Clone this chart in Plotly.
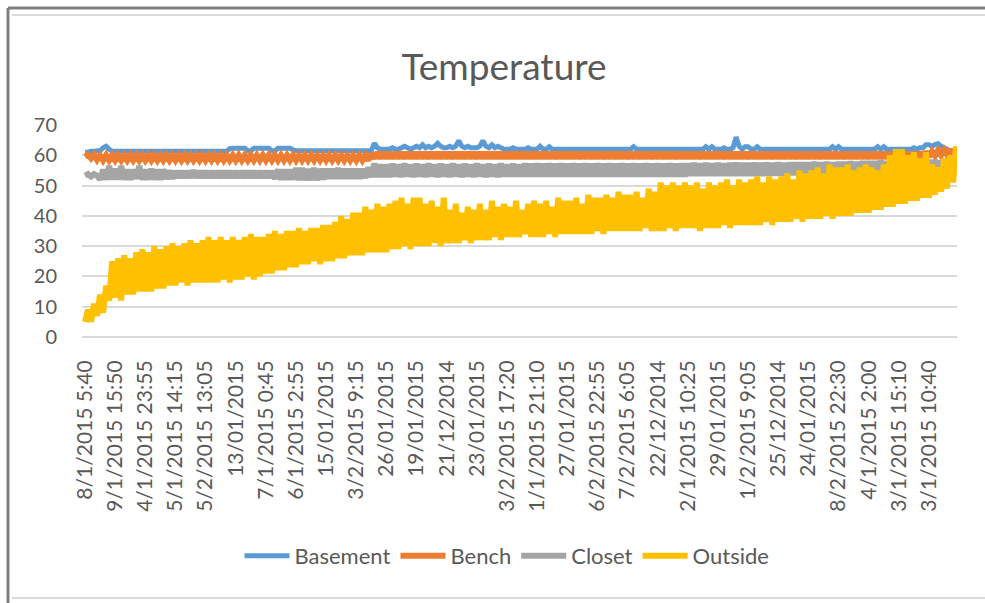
import plotly.graph_objects as go

# ---------------- data ----------------
tick_labels = [
    "8/1/2015 5:40", "9/1/2015 15:50", "4/1/2015 23:55", "5/1/2015 14:15",
    "5/2/2015 13:05", "13/01/2015", "7/1/2015 0:45", "6/1/2015 2:55",
    "15/01/2015", "3/2/2015 9:15", "26/01/2015", "19/01/2015", "21/12/2014",
    "23/01/2015", "3/2/2015 17:20", "1/1/2015 21:10", "27/01/2015",
    "6/2/2015 22:55", "7/2/2015 6:05", "22/12/2014", "2/1/2015 10:25",
    "29/01/2015", "1/2/2015 9:05", "25/12/2014", "24/01/2015",
    "8/2/2015 22:30", "4/1/2015 2:00", "3/1/2015 15:10", "3/1/2015 10:40",
]

basement = [
    61, 61, 61.3, 61.3, 61.5, 61.5, 62.5, 63, 62, 61.3,
    61.3, 61.3, 61.3, 61.3, 61.3, 61.3, 61.3, 61.3, 61.3, 61.3,
    61.3, 61.3, 61.3, 61.3, 61.3, 61.3, 61.3, 61.3, 61.3, 61.3,
    61.3, 61.3, 61.3, 61.3, 61.3, 61.3, 61.3, 61.3, 61.3, 61.3,
    61.3, 61.3, 61.3, 61.3, 61.3, 61.3, 61.3, 61.3, 62.2, 62.3,
    62.3, 62.3, 62.3, 62.3, 61.5, 61.5, 62.3, 62.3, 62.3, 62.3,
    62.3, 62.3, 61.5, 61.5, 62.3, 62.3, 62.3, 62.3, 62.3, 61.8,
    61.5, 61.5, 61.5, 61.5, 61.5, 61.5, 61.5, 61.5, 61.5, 61.5,
    61.5, 61.5, 61.5, 61.5, 61.5, 61.5, 61.5, 61.5, 61.5, 61.5,
    61.5, 61.5, 61.5, 61.5, 61.5, 61.5, 64, 62.5, 62, 62,
    62, 62, 62.5, 62, 62, 62.5, 63, 62.5, 62, 62.5,
    63, 62.5, 63.5, 62.5, 63, 62.5, 63, 64, 63, 62.5,
    62.5, 63, 62.5, 63, 64.8, 63, 62.5, 63, 62.5, 62.5,
    62.5, 63, 64.8, 63, 62.5, 63.5, 62.5, 63, 62.5, 62,
    62, 62, 62.5, 62, 62, 62, 62, 62.5, 62, 62,
    62, 63, 62, 62, 62.8, 62, 62, 62, 62, 62,
    62, 62, 62, 62, 62, 62, 62, 62, 62, 62,
    62, 62, 62, 62, 62, 62, 62, 62, 62, 62,
    62, 62, 62.8, 62, 62, 62, 62, 62, 62, 62,
    62, 62, 62, 62, 62, 62, 62, 62, 62, 62,
    62, 62, 62, 62, 62, 62, 62.8, 62, 62.8, 62,
    62, 62, 62.5, 62, 62, 62.5, 66, 63, 62, 62.8,
    62.8, 62, 62, 62.8, 62, 62, 62, 62, 62, 62,
    62, 62, 62, 62, 62, 62, 62, 62, 62, 62,
    62, 62, 62, 62, 62, 62, 62, 62, 62.8, 62,
    62.8, 62, 62, 62, 62, 62, 62, 62, 62, 62,
    62, 62, 62, 62.8, 62, 62.8, 62, 62, 62, 62,
    62, 62, 62, 62, 62, 62.5, 62, 62.5, 62.5, 63.5,
    63.5, 63, 63.5, 63.8, 63, 62.5, 62, 61, 60, 59,
]

bench = [
    59.5, 60.2, 59, 60.2, 58.5, 60, 58.3, 60, 58.3, 60,
    58.3, 60, 58.3, 60, 58.3, 60, 58.3, 60, 58.3, 60,
    58.3, 60, 58.3, 60, 58.3, 60, 58.3, 60, 58.3, 60,
    58.3, 60, 58.3, 60, 58.3, 60, 58.3, 60, 58.3, 60,
    58.3, 60, 58.3, 60, 58.3, 60, 58.3, 60, 58.3, 60,
    58.3, 60, 58.3, 60, 58.3, 60, 58.3, 60, 58.3, 60,
    58.3, 60, 58.3, 60, 58.3, 60, 58.3, 60, 58.3, 60,
    58.3, 60, 58.3, 60, 58.3, 60, 58.3, 60, 58.3, 60,
    58.3, 60, 58.3, 60, 58.3, 60, 58.3, 60, 58.3, 60,
    58.3, 60, 58.3, 60, 58.3, 60.6, 59, 61, 59, 61,
    59, 61, 59, 61, 59, 61, 59, 61, 59, 61,
    59, 61, 59, 61, 59, 61, 59, 61, 59, 61,
    59, 61, 59, 61, 59, 61, 59, 61, 59, 61,
    59, 61, 59, 61, 59, 61, 59, 61, 59, 61,
    59, 61, 59, 61, 59, 61, 59, 61, 59, 61,
    59, 61, 59, 61, 59, 61, 59, 61, 59, 61,
    59, 61, 59, 61, 59, 61, 59, 61, 59, 61,
    59, 61, 59, 61, 59, 61, 59, 61, 59, 61,
    59, 61, 59, 61, 59, 61, 59, 61, 59, 61,
    59, 61, 59, 61, 59, 61, 59, 61, 59, 61,
    59, 61, 59, 61, 59, 61, 59, 61, 59, 61,
    59, 61, 59, 61, 59, 61, 59, 61, 59, 61,
    59, 61, 59, 61, 59, 61, 59, 61, 59, 61,
    59, 61, 59, 61, 59, 61, 59, 61, 59, 61,
    59, 61, 59, 61, 59, 61, 59, 61, 59, 61,
    59, 61, 59, 61, 59, 61, 59, 61, 59, 61,
    59, 61, 59, 61, 59, 61, 59, 61, 59, 61,
    59, 61, 59, 61, 59, 61, 59, 61, 59.2, 61.2,
    59.5, 61.3, 59.8, 61.6, 60, 61.8, 60.2, 62, 60, 61.5,
]

closet = [
    53.3, 53.8, 53, 53.8, 53.3, 52, 55.3, 52, 56.5, 52,
    55.5, 52, 56.5, 52, 55.3, 52, 55.3, 52.2, 56.5, 52,
    55.3, 52, 55.5, 52, 55.3, 52, 55.3, 52.2, 55, 52.3,
    54.8, 52.6, 54.8, 52.6, 54.8, 52.6, 55, 52.6, 54.8, 52.6,
    54.8, 52.6, 54.8, 52.6, 54.8, 52.6, 54.8, 52.6, 54.8, 52.6,
    54.8, 52.6, 54.8, 52.6, 54.8, 52.6, 54.8, 52.6, 54.8, 52.6,
    54.8, 52.6, 54.8, 52.2, 55.3, 52, 55.3, 52, 55.3, 52,
    55.8, 51.8, 55.8, 51.8, 55.5, 51.8, 55.8, 51.8, 55.5, 52,
    55.5, 52.3, 55.5, 52.3, 55.8, 52.3, 55.5, 52.3, 55.5, 52.3,
    55.5, 52.3, 55.5, 52.5, 56, 52.8, 57.3, 52.8, 57, 52.8,
    57, 52.8, 57.2, 53, 57, 52.8, 57.3, 53, 57, 52.8,
    57.2, 53, 57, 52.8, 57.3, 53, 57, 52.8, 57.2, 53,
    57, 52.8, 57.3, 53, 57, 52.8, 57.2, 53, 57, 52.8,
    57.3, 53, 57, 52.8, 57.2, 53, 57, 52.8, 57.3, 53,
    57, 53, 57.2, 53, 57, 53, 57.3, 53, 57.2, 53,
    57.3, 53, 57.2, 53, 57.3, 53, 57.2, 53, 57.3, 53,
    57.2, 53, 57.3, 53, 57.2, 53, 57.3, 53, 57.2, 53,
    57.3, 53, 57.2, 53, 57.3, 53, 57.2, 53, 57.3, 53,
    57.2, 53, 57.3, 53, 57.2, 53, 57.3, 53, 57.2, 53,
    57.3, 53, 57.2, 53, 57.3, 53, 57.2, 53, 57.3, 53,
    57.3, 53.2, 57.5, 53.2, 57.3, 53.2, 57.5, 53.2, 57.3, 53.2,
    57.5, 53.2, 57.3, 53.2, 57.5, 53.2, 57.6, 53.2, 57.5, 53.2,
    57.5, 53.2, 57.6, 53.2, 57.5, 53.2, 57.6, 53.3, 57.5, 53.3,
    57.6, 53.3, 57.5, 53.3, 57.6, 53.5, 57.6, 53.5, 57.6, 53.5,
    57.6, 53.5, 57.8, 53.5, 57.6, 53.8, 57.8, 53.8, 57.6, 53.8,
    57.8, 53.8, 57.8, 53.8, 58, 53.8, 57.8, 54, 58, 54,
    58, 54, 58, 54.2, 58.2, 54.2, 58, 54.5, 58.2, 54.5,
    58.2, 54.5, 58.2, 54.8, 58.2, 54.8, 58.4, 55, 58.2, 55,
    58.4, 55, 58.4, 55.2, 58.2, 55.2, 58.4, 55.5, 58.2, 55.5,
]

outside = [
    5, 9, 5, 11, 7, 14, 8, 17, 12, 25,
    13, 26, 12, 27, 14, 26, 14, 28, 15, 29,
    15, 28, 15, 30, 16, 29, 16, 30, 17, 31,
    17, 30, 18, 31, 17, 32, 18, 31, 18, 32,
    18, 33, 18, 32, 18, 33, 19, 32, 18, 33,
    19, 32, 19, 33, 20, 34, 19, 33, 20, 33,
    21, 34, 21, 35, 22, 34, 22, 35, 23, 35,
    23, 36, 24, 35, 24, 36, 25, 36, 24, 37,
    25, 37, 25, 38, 26, 40, 26, 39, 27, 41,
    27, 41, 27, 43, 28, 42, 28, 44, 28, 43,
    28, 44, 29, 45, 29, 46, 30, 44, 29, 46,
    30, 46, 30, 44, 30, 45, 31, 43, 30, 46,
    31, 42, 31, 44, 31, 41, 32, 43, 31, 42,
    32, 44, 32, 42, 32, 45, 33, 43, 32, 44,
    33, 43, 33, 45, 33, 42, 34, 44, 33, 45,
    33, 44, 33, 45, 34, 43, 33, 46, 34, 45,
    34, 45, 34, 46, 34, 44, 34, 47, 34, 46,
    35, 46, 34, 47, 35, 46, 35, 48, 35, 47,
    35, 47, 35, 48, 35, 46, 36, 49, 35, 48,
    35, 51, 35, 50, 36, 51, 35, 50, 36, 51,
    36, 50, 36, 51, 35, 49, 36, 51, 36, 50,
    36, 51, 37, 52, 36, 50, 37, 52, 37, 51,
    37, 52, 37, 53, 37, 51, 38, 53, 37, 52,
    38, 53, 38, 54, 38, 52, 39, 55, 38, 54,
    39, 55, 39, 56, 39, 54, 40, 57, 39, 56,
    40, 56, 40, 57, 40, 55, 41, 56, 41, 57,
    41, 56, 42, 55, 42, 57, 43, 60, 43, 62,
    44, 62, 44, 60, 45, 61, 45, 59, 46, 61,
    46, 57, 47, 56, 48, 59, 49, 60, 51, 63,
]

point_index = list(range(len(outside)))          # reading order of the logged samples
tick_positions = point_index[::10][:len(tick_labels)]

series_names = ["Basement", "Bench", "Closet", "Outside"]
series_values = [basement, bench, closet, outside]
series_colors = ["#5B9BD5", "#ED7D31", "#A5A5A5", "#FFC000"]
series_widths = [5, 6, 6, 6]

# ---------------- figure ----------------
FONT = "Lato, 'Open Sans', sans-serif"
TXT = "#595959"

fig = go.Figure()
for name, vals, col, lw in zip(series_names, series_values, series_colors, series_widths):
    fig.add_trace(go.Scatter(
        x=point_index[:len(vals)], y=vals, name=name, mode="lines",
        line=dict(color=col, width=lw, simplify=False, shape="linear"),
        hoverinfo="x+y+name",
    ))

# pixel geometry of the plot area
L, R, T, B = 82, 957, 125, 337
W, H = 985, 603
px = lambda X: (X - L) / (R - L)
py = lambda Y: (B - Y) / (B - T)

shapes = [
    # light chart-area border
    dict(type="line", xref="paper", yref="paper", x0=px(12), x1=px(985), y0=py(15), y1=py(15),
         line=dict(color="#D9D9D9", width=2)),
    dict(type="line", xref="paper", yref="paper", x0=px(12), x1=px(985), y0=py(598), y1=py(598),
         line=dict(color="#D9D9D9", width=2)),
    # dark outer frame
    dict(type="line", xref="paper", yref="paper", x0=px(8), x1=px(985), y0=py(8), y1=py(8),
         line=dict(color="#7F7F7F", width=3)),
    dict(type="line", xref="paper", yref="paper", x0=px(8), x1=px(8), y0=py(8), y1=py(603),
         line=dict(color="#7F7F7F", width=3)),
]

fig.update_layout(
    width=W, height=H,
    margin=dict(l=L, r=W - R, t=T, b=H - B, pad=0),
    paper_bgcolor="white", plot_bgcolor="white",
    font=dict(family=FONT, color=TXT),
    title=dict(text="Temperature", x=px(504), xref="paper", xanchor="center",
               y=1 - 67 / H, yref="container", yanchor="middle",
               font=dict(family=FONT, size=37, color=TXT)),
    showlegend=True,
    legend=dict(orientation="h", x=px(507), xanchor="center", y=py(556), yanchor="middle",
                font=dict(family=FONT, size=22, color=TXT), bgcolor="rgba(0,0,0,0)",
                traceorder="normal", itemwidth=45),
    shapes=shapes,
)

fig.update_xaxes(
    range=[-1.0, 289.3], tickmode="array", tickvals=tick_positions, ticktext=tick_labels,
    tickangle=-90, tickfont=dict(family=FONT, size=21, color=TXT),
    ticks="outside", ticklen=14, tickcolor="rgba(0,0,0,0)",
    showgrid=False, zeroline=False, showline=False,
)
fig.update_yaxes(
    range=[0, 70], tickmode="array", tickvals=[0, 10, 20, 30, 40, 50, 60, 70],
    tickfont=dict(family=FONT, size=20, color=TXT),
    ticks="outside", ticklen=20, tickcolor="rgba(0,0,0,0)",
    showgrid=True, gridcolor="#D9D9D9", gridwidth=1.5,
    zeroline=True, zerolinecolor="#D9D9D9", zerolinewidth=1.5, showline=False,
)

fig.write_html("out.html")
